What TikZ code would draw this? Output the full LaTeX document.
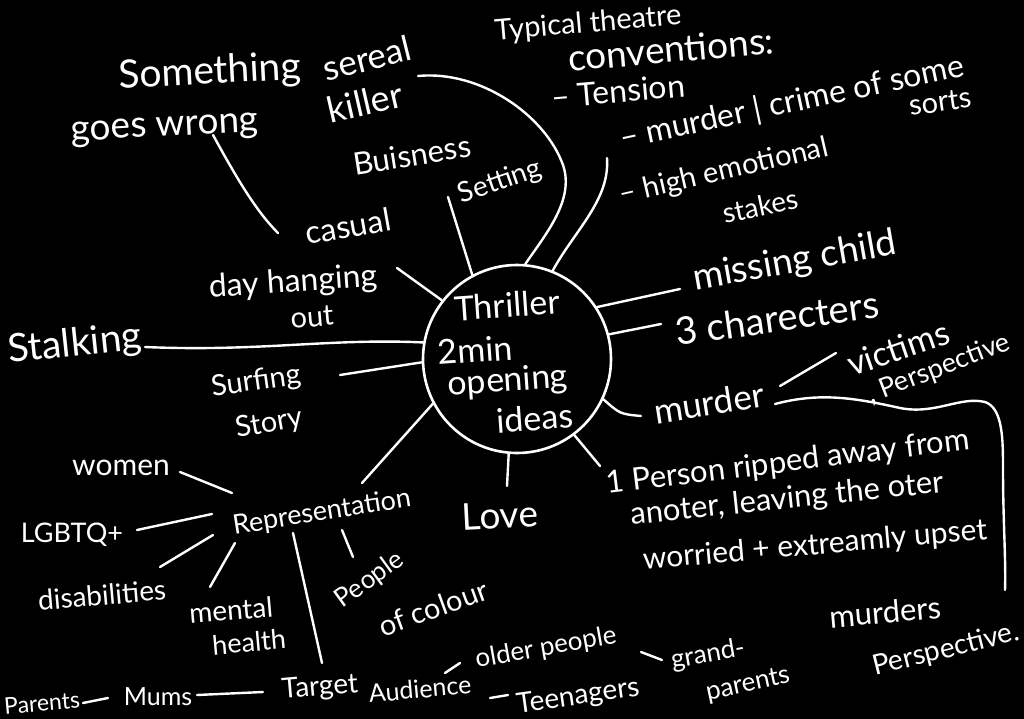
\documentclass[tikz,border=0pt]{standalone}
\usepackage{fontspec}
\setmainfont{Lato}
\usetikzlibrary{calc}
\tikzset{
  scrawl/.style={text=white, inner sep=0pt, font=\fontsize{#1}{#1}\selectfont},
  inkline/.style={draw=white, line width=2.4pt, line cap=round, line join=round},
  hub/.style={circle, draw=white, line width=2.6pt, minimum size=188pt, inner sep=0pt}
}
\begin{document}
\begin{tikzpicture}[x=1pt,y=-1pt]
        \fill[black] (0,0) rectangle (1024,719);
        \useasboundingbox (0,0) rectangle (1024,719);

        \node[hub] (Hub) at (517,359) {};
        \foreach \n/\x/\y/\t in
        { Thriller/507/305/Thriller,
            TwoMin/475/350/2min,
            Opening/508/382/opening,
            Ideas/535/418/ideas
        }
        {
            \node[scrawl=34, rotate=4] (\n) at (\x,\y) {\t};
        };

        \node[scrawl=29, rotate=5] (Typical) at (588,24) {Typical theatre};
        \node[scrawl=37, rotate=5] (Conventions) at (671,49) {conventions:};
        \node[scrawl=32, rotate=5] (Tension) at (618,91) {-- Tension};
        \node[scrawl=32, rotate=12] (Crime) at (792,103) {-- murder | crime of some};
        \node[scrawl=29, rotate=8] (Sorts) at (940,102) {sorts};
        \node[scrawl=29, rotate=13] (Emotional) at (724,172) {-- high emotional};
        \node[scrawl=28, rotate=12] (Stakes) at (760,206) {stakes};

        \node[scrawl=39, rotate=3] (Something) at (210,73) {Something};
        \node[scrawl=37, rotate=3] (GoesWrong) at (165,130) {goes wrong};
        \node[scrawl=35, rotate=14] (Sereal) at (367,58) {sereal};
        \node[scrawl=36, rotate=13] (Killer) at (365,102) {killer};
        \node[scrawl=31, rotate=9] (Business) at (412,155) {Buisness};
        \node[scrawl=28, rotate=19] (Setting) at (500,182) {Setting};
        \node[scrawl=32, rotate=10] (Casual) at (348,226) {casual};
        \node[scrawl=32, rotate=4] (Hanging) at (293,283) {day hanging};
        \node[scrawl=29, rotate=5] (Out) at (312,317) {out};
        \node[scrawl=39, rotate=6] (Stalking) at (75,345) {Stalking};
        \node[scrawl=29, rotate=8] (Surfing) at (256,382) {Surfing};
        \node[scrawl=29, rotate=10] (Story) at (269,424) {Story};

        \node[scrawl=37, rotate=10] (Missing) at (795,262) {missing child};
        \node[scrawl=38, rotate=8] (Characters) at (777,318) {3 charecters};
        \node[scrawl=35, rotate=9] (Murder) at (709,403) {murder};
        \node[scrawl=34, rotate=19] (Victims) at (898,348) {victims};
        \node[scrawl=27, rotate=21] (VictimView) at (939,369) {, Perspective};
        \node[scrawl=31, rotate=7] (Ripped) at (788,463) {1 Person ripped away from};
        \node[scrawl=31, rotate=6] (Leaving) at (787,500) {anoter, leaving the oter};
        \node[scrawl=30, rotate=5] (Upset) at (815,546) {worried + extreamly upset};
        \node[scrawl=31, rotate=5] (Murders) at (885,612) {murders};
        \node[scrawl=28, rotate=14] (KillerView) at (946,650) {Perspective.};
        \node[scrawl=37, rotate=3] (Love) at (500,515) {Love};

        \node[scrawl=30] (Women) at (121,468) {women};
        \node[scrawl=27, rotate=9] (Representation) at (322,513) {Representation};
        \node[scrawl=27] (Lgbtq) at (72,535) {LGBTQ+};
        \node[scrawl=28, rotate=5] (Disabilities) at (102,595) {disabilities};
        \node[scrawl=28, rotate=5] (Mental) at (231,610) {mental};
        \node[scrawl=27, rotate=5] (Health) at (249,642) {health};
        \node[scrawl=26, rotate=36] (People) at (370,580) {People};
        \node[scrawl=29, rotate=20] (Colour) at (433,608) {of colour};
        \node[scrawl=28, rotate=5] (Target) at (320,688) {Target};
        \node[scrawl=25, rotate=5] (Audience) at (420,689) {Audience};
        \node[scrawl=23, rotate=5] (Parents) at (42,703) {Parents};
        \node[scrawl=25] (Mums) at (158,697) {Mums};
        \node[scrawl=26, rotate=10] (Older) at (546,648) {older people};
        \node[scrawl=28, rotate=8] (Teenagers) at (578,697) {Teenagers};
        \node[scrawl=26, rotate=10] (Grand) at (708,655) {grand-};
        \node[scrawl=26, rotate=12] (GrandParents) at (748,685) {parents};

        % spokes off the hub
        \draw[inkline] (Hub.118) -- ($(Setting)+(-52,15)$);
        \draw[inkline] ($(Killer)+(53,-26)$) .. controls (480,70) and (545,115) .. (563,165)
            .. controls (575,200) and (545,235) .. (Hub.85);
        \draw[inkline] ($(Emotional)+(-117,-14)$) .. controls (610,200) and (575,230) .. (Hub.68);
        \draw[inkline] (Hub.33) -- ($(Missing)+(-115,27)$);
        \draw[inkline] (Hub.15) -- ($(Characters)+(-116,6)$);
        \draw[inkline] (Hub.-25) .. controls (620,414) .. ($(Murder)+(-68,13)$);
        \draw[inkline] (Hub.-53) -- ($(Ripped)+(-188,3)$);
        \draw[inkline] (Hub.-95) -- ($(Love)+(7,-29)$);
        \draw[inkline] (Hub.208) -- ($(Representation)+(40,-30)$);
        \draw[inkline] (Hub.182) -- ($(Surfing)+(84,-7)$);
        \draw[inkline] (Hub.170) .. controls (330,338) and (260,352) .. ($(Stalking)+(70,2)$);
        \draw[inkline] (Hub.142) -- ($(Hanging)+(104,-15)$);

        \draw[inkline] ($(GoesWrong)+(48,5)$) .. controls (235,175) and (255,210) .. ($(Casual)+(-70,7)$);
        \draw[inkline] ($(Murder)+(71,-17)$) -- ($(Victims)+(-62,5)$);
        \draw[inkline] ($(Murder)+(66,1)$) .. controls (820,392) and (855,398) .. (900,408)
            .. controls (935,415) and (960,396) .. (985,402)
            .. controls (1003,408) and (1003,440) .. (1003,470)
            .. controls (1003,520) and (1006,560) .. ($(Murders)+(120,-22)$);

        \draw[inkline] ($(Women)+(59,4)$) -- ($(Representation)+(-90,-20)$);
        \draw[inkline] ($(Lgbtq)+(65,-5)$) -- ($(Representation)+(-110,1)$);
        \draw[inkline] ($(Disabilities)+(58,-28)$) -- ($(Representation)+(-109,22)$);
        \draw[inkline] ($(Mental)+(-21,-23)$) -- ($(Representation)+(-87,30)$);
        \draw[inkline] ($(Representation)+(-29,20)$) -- ($(Target)+(2,-25)$);
        \draw[inkline] ($(Representation)+(20,17)$) -- ($(People)+(-17,-23)$);

        \draw[inkline] ($(Parents)+(41,0)$) -- ($(Mums)+(-50,1)$);
        \draw[inkline] ($(Mums)+(39,-2)$) -- ($(Target)+(-57,4)$);
        \draw[inkline] ($(Audience)+(25,-16)$) -- ($(Older)+(-86,15)$);
        \draw[inkline] ($(Audience)+(70,9)$) -- ($(Teenagers)+(-70,-2)$);
        \draw[inkline] ($(Older)+(95,4)$) -- ($(Grand)+(-46,5)$);
\end{tikzpicture}
\end{document}
